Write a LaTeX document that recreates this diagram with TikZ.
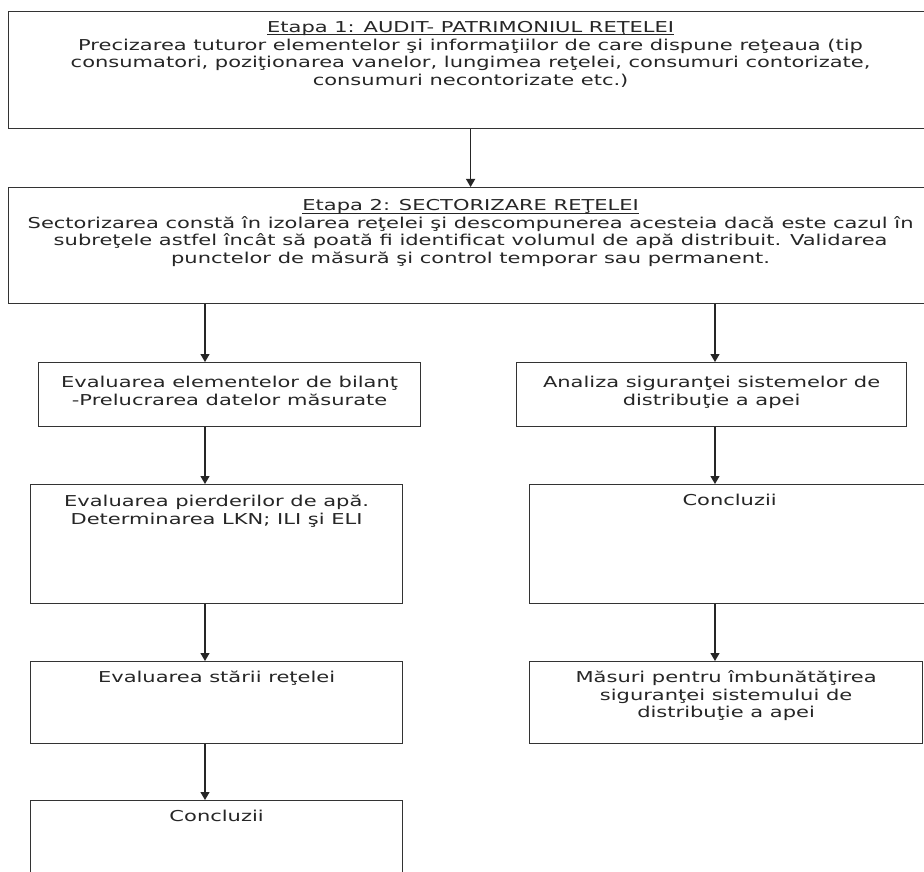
\documentclass[tikz,border=0pt]{standalone}
\usepackage{fontspec}
\setmainfont{DejaVu Sans}[FakeStretch=1.4]
\usetikzlibrary{arrows.meta}

% text block, top aligned inside a box of fixed size
\newcommand{\stagetext}[4][21pt]{\parbox[t][#3][t]{#2}{\centering\rule{0pt}{#1}#4}}
% underlined heading
\newcommand{\titleline}[1]{\setbox0=\hbox{#1}\leavevmode
  \rlap{\raisebox{-2.8pt}{\rule{\wd0}{0.9pt}}}\box0}

\begin{document}
\begin{tikzpicture}[x=1pt, y=-1pt,
    stage/.style={draw=black!80, line width=1.2pt, inner sep=0pt, anchor=north west,
      text=black!85, font=\fontsize{15pt}{17.5pt}\selectfont},
    arr/.style={draw=black!85, line width=1.2pt, -{Triangle[length=8pt,width=9pt]}}]
  \useasboundingbox (0,0) rectangle (924,872);
  \fill[white] (0,0) rectangle (924,872);
  \clip (0,0) rectangle (924,872);

  % the two stages
  \node[stage] (etapa1) at (8,11) {\stagetext{924pt}{117pt}{%
    \titleline{Etapa 1: AUDIT- PATRIMONIUL REŢELEI}\\
    Precizarea tuturor elementelor şi informaţiilor de care dispune reţeaua (tip\\
    consumatori, poziţionarea vanelor, lungimea reţelei, consumuri contorizate,\\
    consumuri necontorizate etc.)}};
  \node[stage] (etapa2) at (8,187) {\stagetext[23pt]{924pt}{116pt}{%
    \titleline{Etapa 2: SECTORIZARE REŢELEI}\\
    Sectorizarea constă în izolarea reţelei şi descompunerea acesteia dacă este cazul în\\
    subreţele astfel încât să poată fi identificat volumul de apă distribuit. Validarea\\
    punctelor de măsură şi control temporar sau permanent.}};

  % left branch
  \node[stage] (bilant) at (38,362) {\stagetext[25pt]{382pt}{64pt}{%
    Evaluarea elementelor de bilanţ\\ -Prelucrarea datelor măsurate}};
  \node[stage] (pierderi) at (30,484) {\stagetext[22pt]{372pt}{119pt}{%
    Evaluarea pierderilor de apă.\\ Determinarea LKN; ILI şi ELI}};
  \node[stage] (stare) at (30,661) {\stagetext{372pt}{82pt}{%
    Evaluarea stării reţelei}};
  \node[stage] (concl1) at (30,800) {\stagetext{372pt}{90pt}{Concluzii}};

  % right branch
  \node[stage] (analiza) at (516,362) {\stagetext[25pt]{390pt}{64pt}{%
    Analiza siguranţei sistemelor de\\ distribuţie a apei}};
  \node[stage] (concl2) at (529,484) {\stagetext{400pt}{119pt}{Concluzii}};
  \node[stage] (masuri) at (529,661) {\stagetext{393pt}{82pt}{%
    Măsuri pentru îmbunătăţirea\\ siguranţei sistemului de\\ distribuţie a apei}};

  \coordinate (colL) at (205,0);
  \coordinate (colR) at (715,0);

  \draw[arr] (etapa1.south) -- (etapa2.north);
  \draw[arr] (etapa2.south -| colL) -- (bilant.north -| colL);
  \draw[arr] (bilant.south -| colL) -- (pierderi.north -| colL);
  \draw[arr] (pierderi.south -| colL) -- (stare.north -| colL);
  \draw[arr] (stare.south -| colL) -- (concl1.north -| colL);
  \draw[arr] (etapa2.south -| colR) -- (analiza.north -| colR);
  \draw[arr] (analiza.south -| colR) -- (concl2.north -| colR);
  \draw[arr] (concl2.south -| colR) -- (masuri.north -| colR);
\end{tikzpicture}
\end{document}
